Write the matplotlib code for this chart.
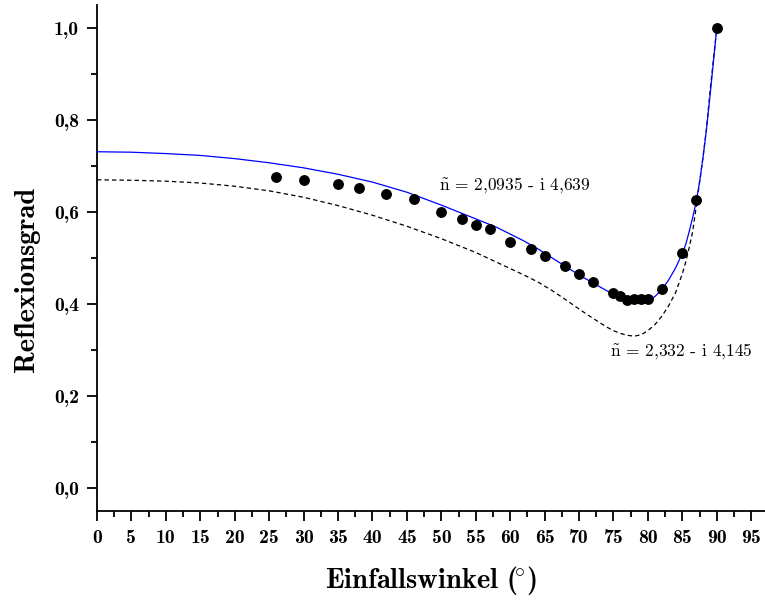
import matplotlib
matplotlib.use('Agg')
import matplotlib.pyplot as plt
from matplotlib.ticker import MultipleLocator, FuncFormatter

plt.rcParams['mathtext.fontset'] = 'cm'
plt.rcParams['font.family'] = ['cmr10', 'DejaVu Serif']

# measured points
meas_angle = [26, 30, 35, 38, 42, 46, 50, 53, 55, 57, 60, 63, 65, 68, 70, 72,
              75, 76, 77, 78, 79, 80, 82, 85, 87, 90]
meas_R = [0.676, 0.670, 0.660, 0.652, 0.640, 0.628, 0.599, 0.585, 0.572, 0.563,
          0.535, 0.520, 0.505, 0.483, 0.466, 0.447, 0.423, 0.417, 0.409, 0.410,
          0.411, 0.411, 0.433, 0.510, 0.625, 1.0]

# fitted curve n = 2,0935 - i 4,639 (blue)
fit1_angle = [0, 5, 10, 15, 20, 25, 30, 35, 40, 45, 50, 55, 58, 60, 62, 64, 66,
              68, 70, 72, 74, 75, 76, 77, 78, 79, 80, 81, 82, 83, 84, 85, 85.5,
              86, 86.5, 87, 87.5, 88, 88.5, 89, 89.5, 90]
fit1_R = [0.731, 0.730, 0.727, 0.723, 0.716, 0.707, 0.696, 0.682, 0.665, 0.643,
          0.615, 0.585, 0.567, 0.552, 0.537, 0.520, 0.501, 0.482, 0.463, 0.446,
          0.429, 0.422, 0.415, 0.410, 0.406, 0.405, 0.408, 0.416, 0.431, 0.452,
          0.478, 0.510, 0.530, 0.558, 0.588, 0.622, 0.665, 0.718, 0.780, 0.850,
          0.925, 1.0]

# curve n = 2,332 - i 4,145 (dashed)
fit2_angle = [0, 5, 10, 15, 20, 25, 30, 35, 40, 45, 50, 55, 60, 62, 64, 66, 68,
              70, 72, 74, 75, 76, 77, 78, 79, 80, 81, 82, 83, 84, 85, 85.5, 86,
              86.5, 87, 87.5, 88, 88.5, 89, 89.5, 90]
fit2_R = [0.670, 0.669, 0.667, 0.663, 0.656, 0.646, 0.632, 0.614, 0.593, 0.569,
          0.542, 0.512, 0.477, 0.463, 0.448, 0.430, 0.410, 0.389, 0.369, 0.350,
          0.342, 0.336, 0.332, 0.330, 0.333, 0.342, 0.355, 0.373, 0.396, 0.424,
          0.466, 0.492, 0.523, 0.558, 0.610, 0.665, 0.720, 0.780, 0.860, 0.930,
          1.0]

label1 = r'$\tilde{\mathrm{n}}$ = 2,0935 - i 4,639'
label2 = r'$\tilde{\mathrm{n}}$ = 2,332 - i 4,145'

fig = plt.figure(figsize=(7.65, 6.03), dpi=100)
ax = fig.add_axes([0.1268, 0.1526, 0.8732, 0.8391])

ax.plot(fit2_angle, fit2_R, color='black', lw=0.9, dashes=(3.5, 2.5), zorder=2)
ax.plot(fit1_angle, fit1_R, color='#0000ff', lw=0.9, zorder=3)
ax.plot(meas_angle, meas_R, 'o', color='black', ms=6.8, zorder=4)

ax.text(49.7, 0.648, label1, fontsize=12.5, family='cmr10')
ax.text(74.5, 0.289, label2, fontsize=12.5, family='cmr10')

ax.set_xlim(0, 97)
ax.set_ylim(-0.05, 1.05)
for s in ['top', 'right']:
    ax.spines[s].set_visible(False)
for s in ['left', 'bottom']:
    ax.spines[s].set_linewidth(1.3)

ax.xaxis.set_major_locator(MultipleLocator(5))
ax.xaxis.set_minor_locator(MultipleLocator(2.5))
ax.yaxis.set_major_locator(MultipleLocator(0.2))
ax.yaxis.set_minor_locator(MultipleLocator(0.1))
ax.xaxis.set_major_formatter(FuncFormatter(lambda v, p: f'{int(round(v))}'))
ax.yaxis.set_major_formatter(FuncFormatter(lambda v, p: f'{v:.1f}'.replace('.', ',')))
ax.tick_params(which='major', direction='out', length=7, width=1.3, pad=6)
ax.tick_params(which='minor', direction='out', length=4, width=1.3)
for lab in ax.get_xticklabels() + ax.get_yticklabels():
    lab.set_family('cmb10')
    lab.set_fontsize(14.2)

ax.set_xlabel(r'Einfallswinkel ($\!{}^{\circ}$)', family='cmb10',
              fontsize=20.5, labelpad=12)
ax.set_ylabel('Reflexionsgrad', family='cmb10', fontsize=20.5)
ax.yaxis.set_label_coords(-0.085, 0.458)

fig.savefig('out.png', dpi=100)
